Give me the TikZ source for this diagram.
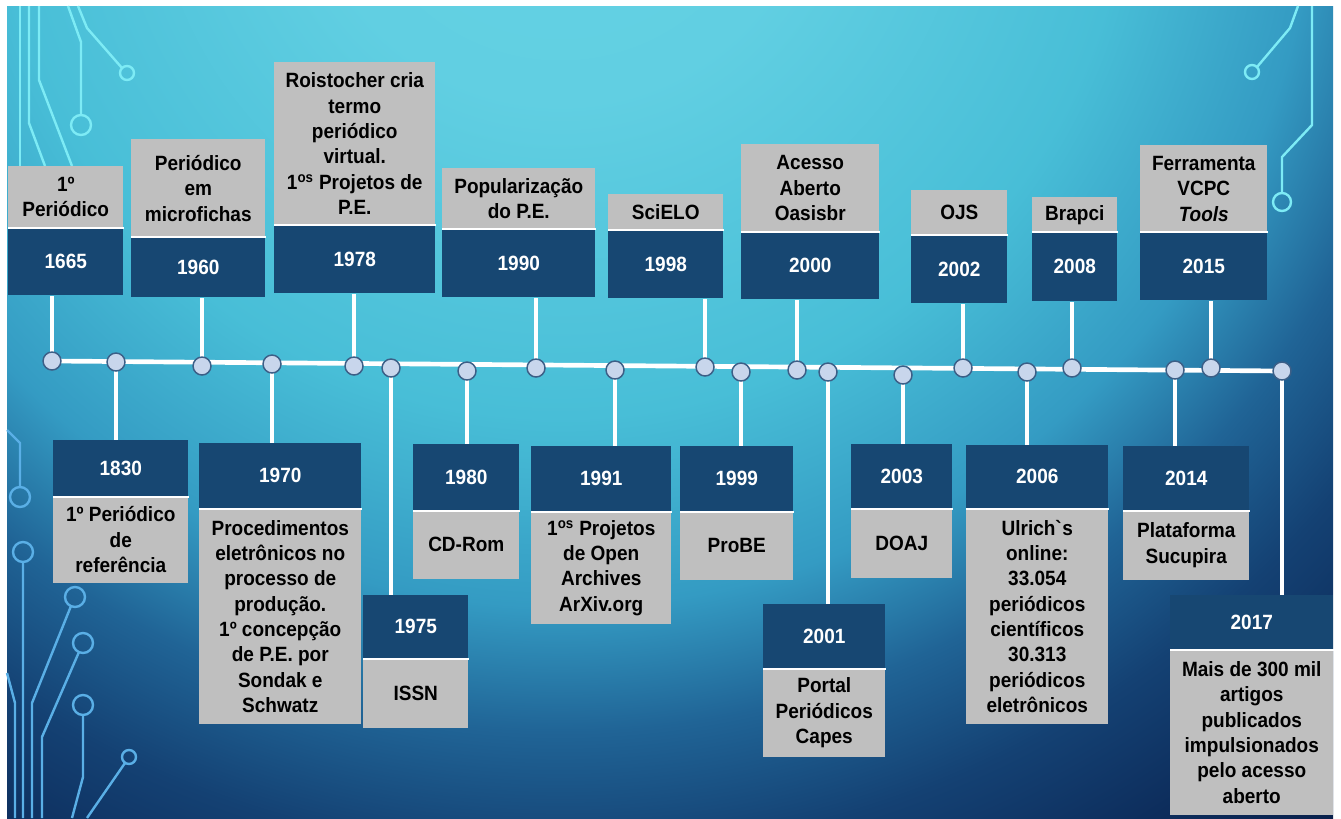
\documentclass[tikz,border=0pt]{standalone}
\usepackage{fontspec}
\setmainfont{Liberation Sans}[FakeStretch=0.92]
\pgfdeclarelayer{bg}
\pgfdeclarelayer{back}
\pgfsetlayers{bg,back,main}
\definecolor{yearblue}{RGB}{23,71,114}
\definecolor{notegray}{RGB}{191,191,191}
\definecolor{dotfill}{RGB}{200,214,236}
\definecolor{dotline}{RGB}{60,95,135}
\definecolor{wirecyan}{RGB}{125,235,245}
\definecolor{wireblue}{RGB}{90,175,230}
\definecolor{skyA}{RGB}{100,210,228}
\definecolor{skyB}{RGB}{97,207,226}
\definecolor{skyC}{RGB}{72,190,215}
\definecolor{skyD}{RGB}{52,155,195}
\definecolor{skyE}{RGB}{32,100,150}
\definecolor{skyF}{RGB}{20,65,115}
\definecolor{skyG}{RGB}{13,45,92}
\definecolor{skyH}{RGB}{8,30,72}
\pgfdeclareradialshading{sky}{\pgfpoint{0bp}{0bp}}{color(0bp)=(skyA); color(5bp)=(skyB); color(11.25bp)=(skyC); color(15bp)=(skyD); color(17.5bp)=(skyE); color(20bp)=(skyF); color(22.5bp)=(skyG); color(25bp)=(skyH); color(50bp)=(skyH)}
\begin{document}
\begin{tikzpicture}[x=0.75pt,y=-0.75pt,
  yearbox/.style={fill=yearblue,text=white,inner sep=0pt,anchor=north west,font=\fontsize{15.5}{19}\selectfont\bfseries},
  notebox/.style={fill=notegray,text=black,inner sep=0pt,anchor=north west,align=center,font=\fontsize{15.5}{19}\selectfont\bfseries},
  tdot/.style={circle,fill=dotfill,draw=dotline,line width=1.1pt,minimum size=13.5pt,inner sep=0pt},
  stemline/.style={white,line width=3pt},
  axisline/.style={white,line width=3.5pt},
  sepline/.style={white,line width=1.5pt},
  wireline/.style={line width=1.8pt}]
\useasboundingbox (0,0) rectangle (1341,818);
\begin{pgfonlayer}{bg}
  \fill[white] (0,0) rectangle (1341,818);
  \fill[skyH] (7,6) rectangle (1333,818);
  \begin{scope}
    \clip (7,6) rectangle (1333,818);
    \shade[shading=sky] (560,-150) circle (1260);
  \end{scope}
  \draw[wireline,wirecyan] (20,6) -- (20,166);
  \draw[wireline,wirecyan] (29,6) -- (29,123) -- (45,166);
  \draw[wireline,wirecyan] (39,6) -- (39,80) -- (72,166);
  \draw[wireline,wirecyan] (68,6) -- (81,42) -- (81,115) ++(0,10) circle (10);
  \draw[wireline,wirecyan] (78,6) -- (87,28) -- (122,68) (127,73) circle (7);
  \draw[wireline,wirecyan] (1298,6) -- (1290,28) -- (1257,67) (1252,72) circle (7);
  \draw[wireline,wirecyan] (1312,6) -- (1312,125) -- (1282,157) -- (1282,193) ++(0,9) circle (9);
  \draw[wireline,wireblue] (7,430) -- (20,443) -- (20,487) ++(0,10) circle (10);
  \draw[wireline,wireblue] (23,818) -- (23,562) ++(0,-10) circle (10);
  \draw[wireline,wireblue] (32,818) -- (32,703) -- (71,606) (75,597) circle (10);
  \draw[wireline,wireblue] (42,818) -- (42,737) -- (79,652) (83,643) circle (10);
  \draw[wireline,wireblue] (72,818) -- (83,777) -- (83,715) ++(0,-10) circle (10);
  \draw[wireline,wireblue] (87,818) -- (125,763) (129,757) circle (7);
  \draw[wireline,wireblue] (7,673) -- (15,703) -- (15,818);
\end{pgfonlayer}
\foreach \yr/\dx/\dy/\xa/\xb/\ya/\yb/\yc/\txt in {
  1665/52/361/8/123/166/228/295/{1º\\Periódico},
  1960/202/366/131/265/139/237/297/{Periódico\\em\\microfichas},
  1978/354/366/274/435/62/225/293/{Roistocher cria\\termo\\periódico\\virtual.\\1\textsuperscript{os} Projetos de\\P.E.},
  1990/536/368/442/595/168/229/297/{Popularização\\do P.E.},
  1998/705/367/608/723/194/230/298/{SciELO},
  2000/797/370/741/879/144/232/299/{Acesso\\Aberto\\Oasisbr},
  2002/963/368/911/1007/190/235/303/{OJS},
  2008/1072/368/1032/1117/197/232/301/{Brapci},
  2015/1211/368/1140/1267/145/232/300/{Ferramenta\\VCPC\\\textit{Tools}}}{
  \node[notebox,minimum width={(\xb-\xa)*0.75pt},minimum height={(\yb-\ya)*0.75pt}] (n\yr) at (\xa,\ya) {\txt};
  \node[yearbox,minimum width={(\xb-\xa)*0.75pt},minimum height={(\yc-\yb)*0.75pt}] (y\yr) at (\xa,\yb) {\yr};
  \draw[sepline] (y\yr.north west) -- (y\yr.north east);
  \node[tdot] (d\yr) at (\dx,\dy) {};
  \begin{pgfonlayer}{back}
    \draw[stemline] (d\yr.center) -- (d\yr |- y\yr.south);
  \end{pgfonlayer}
}
\foreach \yr/\dx/\dy/\xa/\xb/\ya/\yb/\yc/\txt in {
  1830/116/362/53/188/440/496/583/{1º Periódico\\de\\referência},
  1970/272/364/199/361/443/508/724/{Procedimentos\\eletrônicos no\\processo de\\produção.\\1º concepção\\de P.E. por\\Sondak e\\Schwatz},
  1975/391/368/363/468/595/658/728/{ISSN},
  1980/467/371/413/519/444/510/579/{CD-Rom},
  1991/615/370/531/671/446/511/624/{1\textsuperscript{os} Projetos\\de Open\\Archives\\ArXiv.org},
  1999/741/372/680/793/446/511/580/{ProBE},
  2001/828/372/763/885/604/668/757/{Portal\\Periódicos\\Capes},
  2003/903/375/851/952/444/508/578/{DOAJ},
  2006/1027/372/966/1108/445/508/724/{Ulrich\textasciigrave s\\online:\\33.054\\periódicos\\científicos\\30.313\\periódicos\\eletrônicos},
  2014/1175/370/1123/1249/446/510/580/{Plataforma\\Sucupira},
  2017/1282/371/1170/1333/595/649/815/{Mais de 300 mil\\artigos\\publicados\\impulsionados\\pelo acesso\\aberto}}{
  \node[yearbox,minimum width={(\xb-\xa)*0.75pt},minimum height={(\yb-\ya)*0.75pt}] (y\yr) at (\xa,\ya) {\yr};
  \node[notebox,minimum width={(\xb-\xa)*0.75pt},minimum height={(\yc-\yb)*0.75pt}] (n\yr) at (\xa,\yb) {\txt};
  \draw[sepline] (y\yr.south west) -- (y\yr.south east);
  \node[tdot] (d\yr) at (\dx,\dy) {};
  \begin{pgfonlayer}{back}
    \draw[stemline] (d\yr.center) -- (d\yr |- y\yr.north);
  \end{pgfonlayer}
}
\begin{pgfonlayer}{back}
  \draw[axisline] (d1665.center) -- (d2017.center);
\end{pgfonlayer}
\end{tikzpicture}
\end{document}
